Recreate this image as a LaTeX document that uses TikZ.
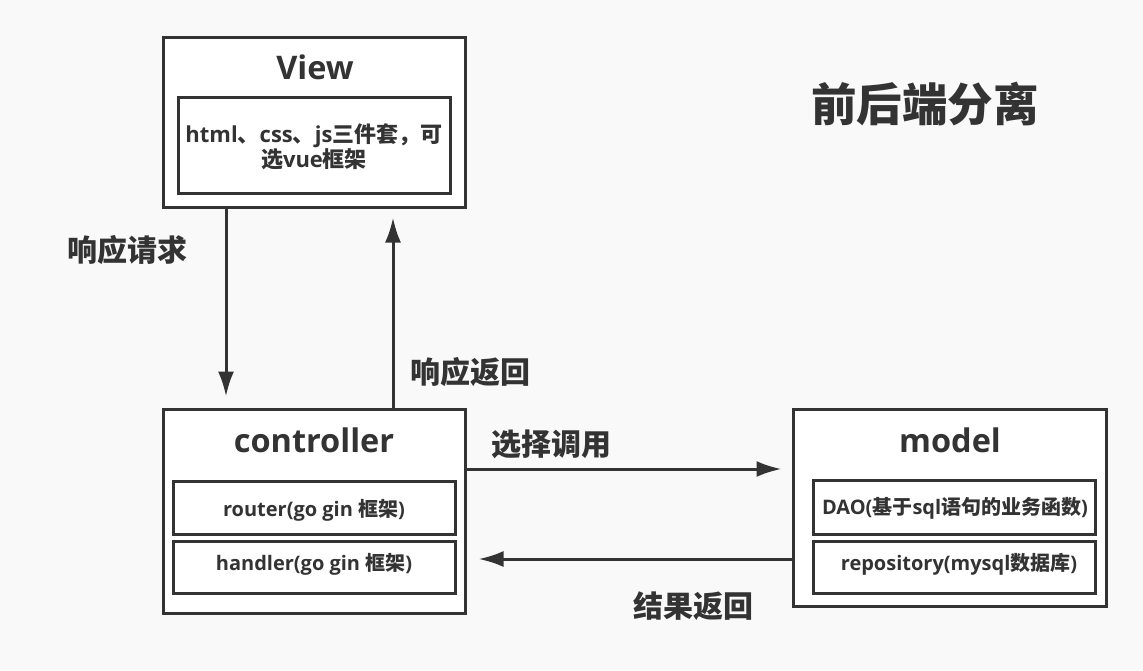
\documentclass[tikz,border=0pt]{standalone}
\usepackage{fontspec}
\setmainfont{Open Sans}
\newfontfamily\cjk{Noto Sans CJK SC}
\usetikzlibrary{arrows.meta,calc}
\definecolor{ink}{HTML}{333333}
\definecolor{bg}{HTML}{F9F9F9}
\begin{document}
\begin{tikzpicture}[x=1pt,y=-1pt,
  box/.style={draw=ink, line width=3pt, fill=white, inner sep=0pt},
  lbl/.style={text=ink, inner sep=0pt, font=\cjk\bfseries\fontsize{30}{34}\selectfont},
  bigttl/.style={text=ink, inner sep=0pt, font=\cjk\bfseries\fontsize{45.5}{50}\selectfont},
  title/.style={text=ink, inner sep=0pt, font=\bfseries\fontsize{32.5}{38}\selectfont},
  sub/.style={text=ink, inner sep=0pt, font=\bfseries\fontsize{20}{23}\selectfont},
  arr/.style={draw=ink, line width=3pt, -{Latex[length=25pt,width=16pt]}}]
\fill[bg] (0,0) rectangle (1143,670);
\useasboundingbox (0,0) rectangle (1143,670);
% View
\node[box, minimum width=302pt, minimum height=170pt] (view) at (314,122) {};
\node[box, minimum width=272pt, minimum height=96pt] (viewin) at (314,145) {};
\node[title] (viewt) at (315,67) {View};
\node[sub, align=center, font=\bfseries\fontsize{22}{23}\selectfont] (viewtxt) at (314,147) {html{\cjk 、}css{\cjk 、}js{\cjk 三件套，可}\\{\cjk 选}vue{\cjk 框架}};
% controller
\node[box, minimum width=302pt, minimum height=204pt] (ctrl) at (314,511) {};
\node[title] (ctrlt) at (314,440) {controller};
\node[box, minimum width=282pt, minimum height=53pt] (router) at (314,507.5) {};
\node[sub] (routert) at (314,510) {router(go gin {\cjk 框架})};
\node[box, minimum width=282pt, minimum height=52pt] (handler) at (314,567) {};
\node[sub] (handlert) at (314,564) {handler(go gin {\cjk 框架})};
% model
\node[box, minimum width=313pt, minimum height=197pt] (model) at (949.5,507.5) {};
\node[title] (modelt) at (950,440) {model};
\node[box, minimum width=282pt, minimum height=54pt] (dao) at (954,507) {};
\node[sub] (daot) at (955,508) {DAO({\cjk 基于}sql{\cjk 语句的业务函数})};
\node[box, minimum width=282pt, minimum height=52pt] (repo) at (954,567) {};
\node[sub] (repot) at (959,564) {repository(mysql{\cjk 数据库})};
% connectors
\coordinate (xa) at (226,0);
\coordinate (xb) at (393,0);
\coordinate (ya) at (0,469);
\coordinate (yb) at (0,559);
\draw[arr, shorten >=11pt] (view.south -| xa) -- (ctrl.north -| xa);
\draw[arr, shorten >=9pt] (ctrl.north -| xb) -- (view.south -| xb);
\draw[arr, shorten >=10pt] (ctrl.east |- ya) -- (model.west |- ya);
\draw[arr, shorten >=12pt] (model.west |- yb) -- (ctrl.east |- yb);
% labels
\node[lbl] (l1) at (127,250) {响应请求};
\node[lbl] (l2) at (470,372) {响应返回};
\node[lbl] (l3) at (551,444) {选择调用};
\node[lbl] (l4) at (693,606) {结果返回};
\node[bigttl] (ttl) at (925,104) {前后端分离};
\end{tikzpicture}
\end{document}
